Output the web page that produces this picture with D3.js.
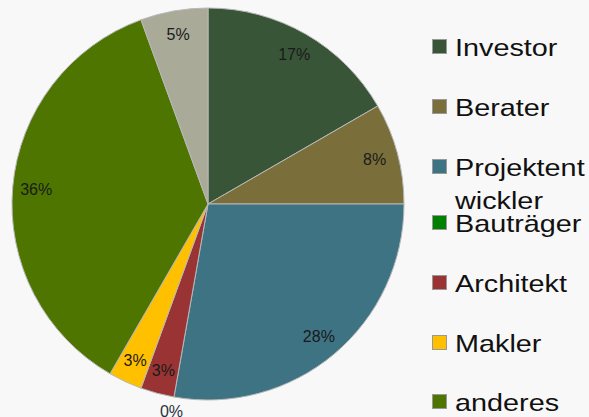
<!DOCTYPE html>
<html>
<head>
<meta charset="utf-8">
<script src="https://cdn.jsdelivr.net/npm/d3@7"></script>
<style>
  body { margin: 0; background: #f8f8f8; }
  svg { display: block; font-family: "Liberation Sans", Arial, sans-serif; }
</style>
</head>
<body>
<svg id="PieChart"></svg>
<script>
// data (counts out of 36)
let categories = ["Investor", "Berater", "Projektentwickler", "Bauträger", "Architekt", "Makler", "anderes", "sonstiges"];
let counts = [6, 3, 10, 0, 1, 1, 13, 2];
let pctLabels = ["17%", "8%", "28%", "0%", "3%", "3%", "36%", "5%"];
let colors = ["#385538", "#7a6f3b", "#3d7383", "#008000", "#9a3434", "#ffc000", "#4d7500", "#a9aa98"];
let legendLines = [["Investor"], ["Berater"], ["Projektent", "wickler"], ["Bauträger"], ["Architekt"], ["Makler"], ["anderes"]];

function getConfig() {
  let width = 589;
  let height = 417;
  let cx = 208, cy = 204, radius = 196;
  let container = d3.select("#PieChart")
    .attr("width", width)
    .attr("height", height);
  return { width, height, cx, cy, radius, container };
}

function drawPie(config) {
  let { cx, cy, radius, container } = config;
  let data = categories.map((c, i) => ({ name: c, value: counts[i], label: pctLabels[i], color: colors[i] }));

  let pie = d3.pie().sort(null).value(d => d.value);
  let arcs = pie(data);
  let arc = d3.arc().innerRadius(0).outerRadius(radius);
  let labelArc = d3.arc().innerRadius(radius * 0.88).outerRadius(radius * 0.88);
  let outerArc = d3.arc().innerRadius(radius + 14).outerRadius(radius + 14);

  let body = container.append("g")
    .attr("transform", `translate(${cx},${cy})`);

  body.selectAll(".slice")
    .data(arcs.filter(d => d.value > 0))
    .enter()
    .append("path")
    .attr("class", "slice")
    .attr("d", arc)
    .attr("fill", d => d.data.color)
    .attr("stroke", "#b8b8b8")
    .attr("stroke-width", 1);

  body.selectAll(".lbl")
    .data(arcs)
    .enter()
    .append("text")
    .attr("class", "lbl")
    .attr("transform", d => {
      let p = d.value > 0 ? labelArc.centroid(d) : outerArc.centroid(d);
      return `translate(${p[0]},${p[1]})`;
    })
    .attr("text-anchor", "middle")
    .attr("dy", "0.36em")
    .attr("font-size", 16)
    .attr("fill", d => d.value > 0 ? "#1a1a1a" : "#2a3140")
    .text(d => d.data.label);
}

function drawLegend(config) {
  let { container } = config;
  let centers = [47, 107, 167, 223, 283, 343, 402];
  let g = container.append("g");
  legendLines.forEach((lines, i) => {
    let y = centers[i];
    g.append("rect")
      .attr("x", 432.5)
      .attr("y", y - 7.5)
      .attr("width", 14)
      .attr("height", 14)
      .attr("fill", colors[i])
      .attr("stroke", "#999")
      .attr("stroke-width", 1);
    lines.forEach((t, j) => {
      g.append("text")
        .attr("transform", `translate(455,${y + 9 + j * 33}) scale(1.2,1)`)
        .attr("font-size", 24)
        .attr("fill", "#111")
        .text(t);
    });
  });
}

let config = getConfig();
drawPie(config);
drawLegend(config);
</script>
</body>
</html>
